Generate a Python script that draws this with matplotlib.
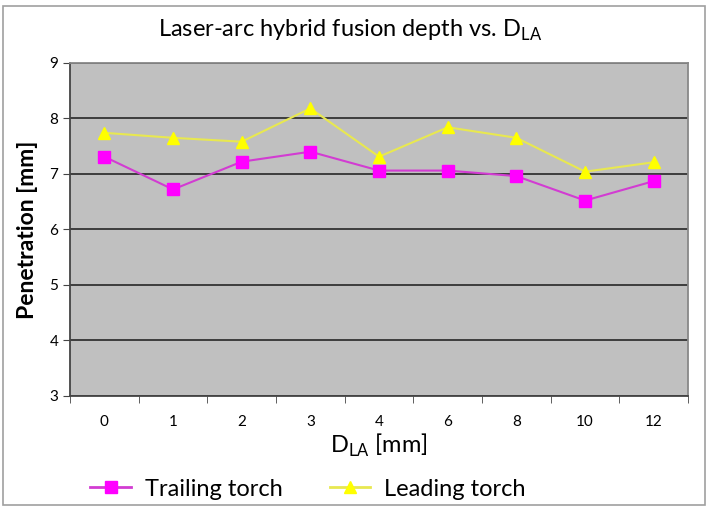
import matplotlib
matplotlib.use("Agg")
import matplotlib.pyplot as plt
from matplotlib.patches import Rectangle
from matplotlib.lines import Line2D
import numpy as np

categories = ["0", "1", "2", "3", "4", "6", "8", "10", "12"]
trailing = [7.31, 6.72, 7.22, 7.40, 7.06, 7.06, 6.96, 6.52, 6.87]
leading = [7.74, 7.65, 7.58, 8.18, 7.31, 7.84, 7.65, 7.04, 7.21]
yticks = [3, 4, 5, 6, 7, 8, 9]

plt.rcParams['font.family'] = ['Lato', 'DejaVu Sans']

fig = plt.figure(figsize=(7.08, 5.07), dpi=100)
fig.patches.append(Rectangle((0.004, 0.004), 0.992, 0.985, transform=fig.transFigure,
                             fill=False, edgecolor='#A0A0A0', lw=1.2))

ax = fig.add_axes([0.0989, 0.219, 0.873, 0.657])
ax.set_facecolor('#C0C0C0')
x = np.arange(len(categories))
ax.plot(x, trailing, color='#D23CD2', lw=1.5, marker='s', ms=8, mfc='#FF00FF', mec='#FF00FF', label='Trailing torch')
ax.plot(x, leading, color='#E8E850', lw=1.5, marker='^', ms=8, mfc='#FFFF00', mec='#FFFF00', label='Leading torch')

ax.set_xlim(-0.5, len(categories) - 0.5)
ax.set_ylim(3, 9)
ax.set_yticks(yticks)
ax.yaxis.grid(True, color='#333333', lw=1.3)
ax.set_axisbelow(True)
ax.set_xticks(x)
ax.set_xticklabels(categories, fontsize=11)
ax.set_xticks(np.arange(-0.5, len(categories)), minor=True)
ax.tick_params(axis='x', which='major', length=0, pad=14)
ax.tick_params(axis='x', which='minor', length=5, direction='out', color='#444444')
ax.tick_params(axis='y', length=5, direction='out', labelsize=11, color='#444444')
for s in ['left', 'bottom']:
    ax.spines[s].set_color('#444444')
    ax.spines[s].set_linewidth(1.3)
for s in ['top', 'right']:
    ax.spines[s].set_color('#888888')
    ax.spines[s].set_linewidth(1.3)

ax.set_ylabel('Penetration [mm]', fontsize=16.5, fontweight='bold', labelpad=8)
ax.set_xlabel(r'D$_{\mathregular{LA}}$ [mm]', fontsize=17, labelpad=2)
fig.text(0.495, 0.94, r'Laser-arc hybrid fusion depth vs. D$_{\mathregular{LA}}$', fontsize=17, ha='center', va='center')

handles = [Line2D([0], [0], color='#D23CD2', lw=2, marker='s', ms=8, mfc='#FF00FF', mec='#FF00FF'),
           Line2D([0], [0], color='#E8E850', lw=2, marker='^', ms=8, mfc='#FFFF00', mec='#FFFF00')]
fig.legend(handles, ['Trailing torch', 'Leading torch'], loc='center', bbox_to_anchor=(0.435, 0.035),
           ncol=2, frameon=False, fontsize=17, handlelength=1.7, handletextpad=0.6, columnspacing=2.0)

fig.savefig('out.png', dpi=100)
